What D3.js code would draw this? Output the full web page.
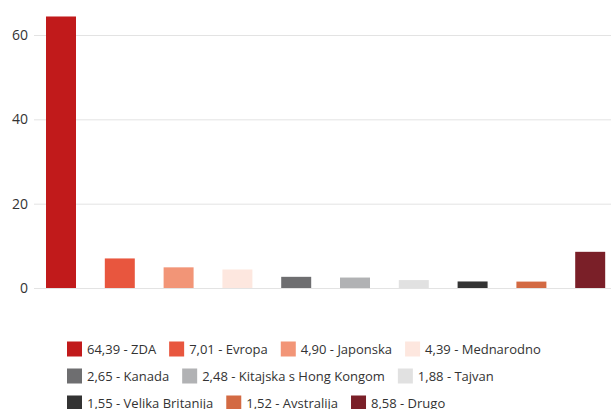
<!DOCTYPE html>
<html>
<head>
<meta charset="utf-8">
<script src="https://cdn.jsdelivr.net/npm/d3@7"></script>
<style>
  body { margin: 0; background: #fff; }
  svg { display: block; font-family: "Segoe UI", "Open Sans", sans-serif; }
</style>
</head>
<body>
<script>
const categories = ["ZDA", "Evropa", "Japonska", "Mednarodno", "Kanada", "Kitajska s Hong Kongom", "Tajvan", "Velika Britanija", "Avstralija", "Drugo"];
const values = [64.39, 7.01, 4.90, 4.39, 2.65, 2.48, 1.88, 1.55, 1.52, 8.58];
const colors = ["#c11a1b", "#e8563e", "#f29577", "#fde7df", "#6e6e70", "#b1b2b4", "#e1e1e1", "#333333", "#d36a43", "#7a1f28"];
const yTicks = [0, 20, 40, 60];

const width = 611, height = 409;
const data = categories.map((c, i) => ({ name: c, value: values[i], color: colors[i] }));

const svg = d3.select("body").append("svg")
    .attr("width", width)
    .attr("height", height);

const x = d3.scaleBand()
    .domain(categories)
    .range([31.6, 619.6])
    .paddingInner(0.49)
    .paddingOuter(0.245);

const y = d3.scaleLinear()
    .domain([0, 60])
    .range([288, 35]);

// gridlines + tick labels
const yAxis = g => g
    .attr("transform", "translate(34,0)")
    .call(d3.axisLeft(y).tickValues(yTicks).tickSize(-(width - 34)).tickPadding(6))
    .call(g => g.select(".domain").remove())
    .call(g => g.selectAll(".tick line").attr("stroke", "#e3e3e3"))
    .call(g => g.selectAll(".tick text")
        .attr("fill", "#333")
        .attr("font-size", 14)
        .attr("font-family", "\"Segoe UI\", \"Open Sans\", sans-serif"));

svg.append("g").call(yAxis);

svg.append("g")
  .selectAll("rect")
  .data(data)
  .join("rect")
    .attr("x", d => x(d.name))
    .attr("y", d => y(d.value))
    .attr("width", x.bandwidth())
    .attr("height", d => y(0) - y(d.value))
    .attr("fill", d => d.color);

// legend, flow layout
const fmt = v => v.toFixed(2).replace(".", ",");
const legend = svg.append("g")
    .attr("font-size", 13)
    .attr("fill", "#333");

let lx = 67, ly = 349;
const maxX = 600, rowH = 27;
data.forEach(d => {
  const item = legend.append("g");
  const t = item.append("text")
      .attr("x", 20)
      .attr("dy", "0.35em")
      .text(`${fmt(d.value)} - ${d.name}`);
  const w = 20 + t.node().getComputedTextLength();
  if (lx + w > maxX) { lx = 67; ly += rowH; }
  item.attr("transform", `translate(${lx},${ly})`);
  item.insert("rect", "text")
      .attr("y", -7.5)
      .attr("width", 15)
      .attr("height", 15)
      .attr("fill", d.color);
  lx += w + 13;
});
</script>
</body>
</html>
